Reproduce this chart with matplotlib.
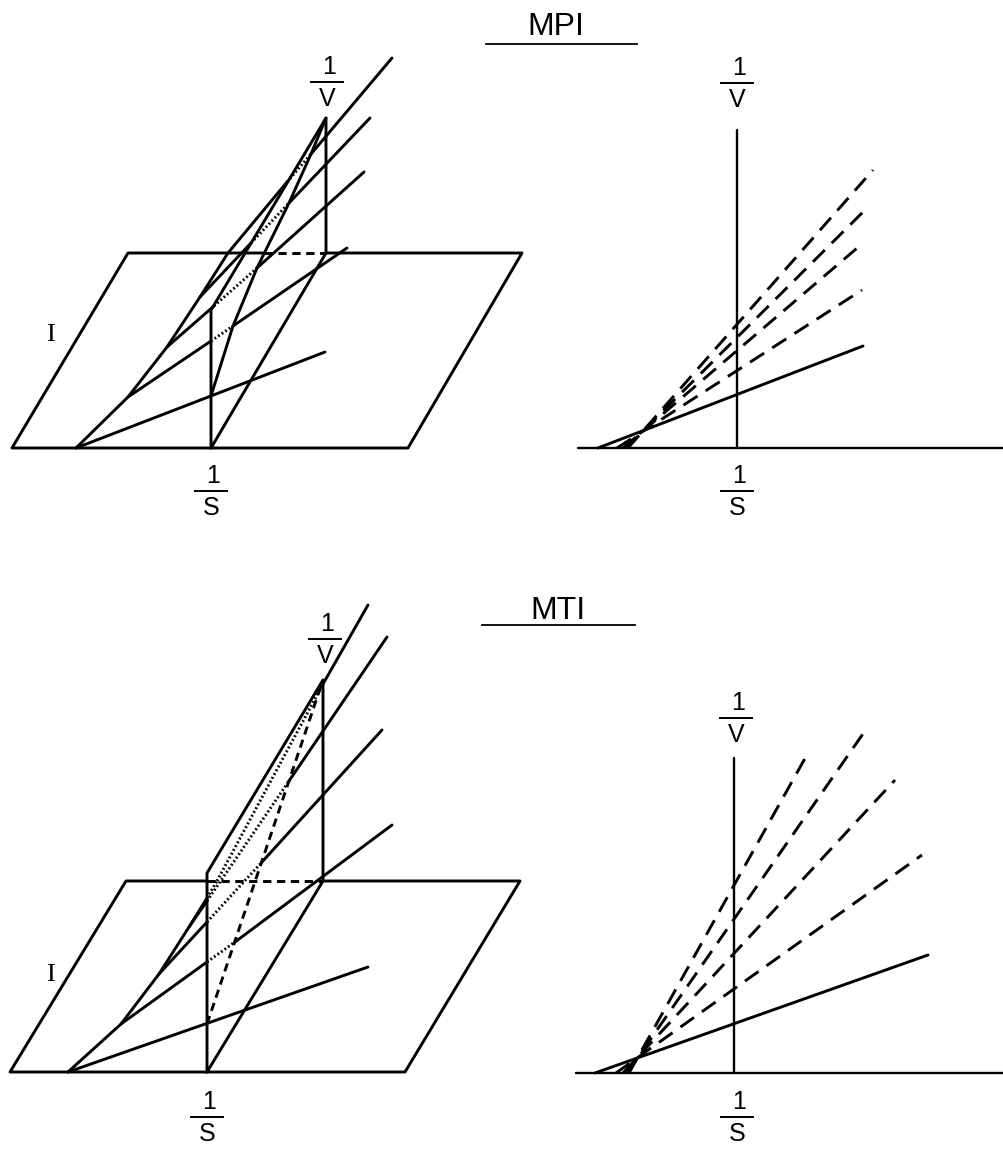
import matplotlib.pyplot as plt
from matplotlib.lines import Line2D

plt.rcParams['lines.scale_dashes'] = False

W, H = 1004, 1157

# All sketch values are in drawing units (1 unit = 1 px), origin at 1/S = 0, 1/V = 0
# of the front plane of each panel.

# ---- MPI, 3-D sketch ----
mpi_floor = [(53, 195), (-83, 195), (-199, 0), (197, 0), (311, 195), (115, 195)]
mpi_floor_hidden = [(53, 195), (115, 195)]
mpi_plane = [(0, 0), (0, 138), (115, 330), (115, 195), (0, 0)]
mpi_base_curve = [(-135, 0), (-83, 51), (-44, 101), (-11, 151), (17, 195)]
mpi_icept_curve = [(0, 52), (22, 122), (46, 180), (78, 245), (100, 294), (115, 330)]
mpi_lines_solid = [
    [(-135, 0), (114, 96)],
    [(-83, 51), (0, 107)], [(22, 122), (136, 200)],
    [(-44, 101), (3, 142)], [(46, 180), (153, 276)],
    [(-11, 151), (40, 205)], [(78, 245), (159, 330)],
    [(17, 195), (76, 266)], [(100, 294), (181, 390)],
]
mpi_lines_hidden = [
    [(0, 107), (22, 122)],
    [(3, 142), (46, 180)],
    [(40, 205), (78, 245)],
    [(76, 266), (100, 294)],
]

# ---- MPI, 2-D plot ----
mpi2_xaxis = [(-159, 0), (267, 0)]
mpi2_yaxis = [(0, 0), (0, 318)]
mpi2_solid = [(-139, 0), (126, 102)]
mpi2_dash_start = [(-120, 0), (-114, 0), (-111, 0), (-109, 0)]
mpi2_dash_end = [(125, 158), (126, 205), (131, 241), (136, 278)]

# ---- MTI, 3-D sketch ----
mti_floor = [(0, 191), (-81, 191), (-197, 0), (198, 0), (313, 191), (116, 191)]
mti_floor_hidden = [(0, 191), (116, 191)]
mti_plane = [(0, 0), (0, 199), (116, 392), (116, 191), (0, 0)]
mti_base_curve = [(-139, 0), (-86, 48), (-48, 98), (-18, 145), (0, 174)]
mti_base_hidden = [(0, 174), (10, 191)]
mti_icept_line = [(0, 48), (116, 392)]
mti_lines_solid = [
    [(-139, 0), (161, 105)],
    [(-86, 48), (0, 110)], [(28, 130), (185, 247)],
    [(-48, 98), (0, 150)], [(55, 210), (175, 342)],
    [(-18, 145), (0, 171)], [(82, 291), (180, 435)],
    [(116, 388), (161, 467)],
]
mti_lines_hidden = [
    [(0, 110), (28, 130)],
    [(0, 150), (55, 210)],
    [(0, 171), (82, 291)],
    [(10, 191), (116, 388)],
]

# ---- MTI, 2-D plot ----
mti2_xaxis = [(-158, 0), (270, 0)]
mti2_yaxis = [(0, 0), (0, 315)]
mti2_solid = [(-139, 0), (194, 118)]
mti2_dash_start = [(-118, 0), (-111, 0), (-107, 0), (-105, 0)]
mti2_dash_end = [(188, 218), (161, 293), (133, 345), (74, 320)]

LW = 2.1
DOT = (0, (1.3, 1.8))
DASH_SHORT = (0, (6, 4))
DASH_LONG = (0, (12, 7))


def poly(ax, pts, lw=LW, ls='-'):
    xs, ys = zip(*pts)
    ax.plot(xs, ys, color='black', lw=lw, ls=ls, clip_on=False,
            solid_capstyle='round', dash_capstyle='butt')


def frac(ax, x, y, bottom, size=18):
    ax.text(x + 2, y + 15, '1', ha='center', va='center', fontsize=size,
            family='Liberation Sans')
    ax.plot([x - 16, x + 16], [y, y], color='black', lw=1.4, clip_on=False)
    ax.text(x, y - 17, bottom, ha='center', va='center', fontsize=size,
            family='Liberation Sans')


def panel(fig, x0, y0, x1, y1, ox, oy):
    ax = fig.add_axes([x0 / W, 1 - y1 / H, (x1 - x0) / W, (y1 - y0) / H])
    ax.set_xlim(x0 - ox, x1 - ox)
    ax.set_ylim(oy - y1, oy - y0)
    ax.axis('off')
    return ax


fig = plt.figure(figsize=(W / 100, H / 100), dpi=100)

# MPI 3-D
ax = panel(fig, 0, 0, 500, 560, 211, 448)
poly(ax, mpi_floor)
poly(ax, mpi_floor_hidden, ls=DASH_SHORT)
poly(ax, mpi_plane)
poly(ax, mpi_base_curve)
poly(ax, mpi_icept_curve)
for seg in mpi_lines_solid:
    poly(ax, seg)
for seg in mpi_lines_hidden:
    poly(ax, seg, ls=DOT)
frac(ax, 116, 366, 'V')
frac(ax, 0, -43, 'S')
ax.text(-161, 113, 'I', ha='center', va='center', fontsize=19,
        family='Liberation Serif')

# MPI 2-D
ax = panel(fig, 500, 0, 1004, 560, 737, 448)
poly(ax, mpi2_xaxis, lw=1.7)
poly(ax, mpi2_yaxis, lw=1.7)
poly(ax, mpi2_solid)
for s, e in zip(mpi2_dash_start, mpi2_dash_end):
    poly(ax, [s, e], ls=DASH_LONG)
frac(ax, 0, 365, 'V')
frac(ax, 0, -43, 'S')

# MTI 3-D
ax = panel(fig, 0, 560, 500, 1157, 207, 1072)
poly(ax, mti_floor)
poly(ax, mti_floor_hidden, ls=DASH_SHORT)
poly(ax, mti_plane)
poly(ax, mti_base_curve)
poly(ax, mti_base_hidden, ls=DOT)
poly(ax, mti_icept_line, ls=DASH_SHORT)
for seg in mti_lines_solid:
    poly(ax, seg)
for seg in mti_lines_hidden:
    poly(ax, seg, ls=DOT)
frac(ax, 118, 433, 'V')
frac(ax, 0, -45, 'S')
ax.text(-157, 97, 'I', ha='center', va='center', fontsize=19,
        family='Liberation Serif')

# MTI 2-D
ax = panel(fig, 500, 560, 1004, 1157, 734, 1073)
poly(ax, mti2_xaxis, lw=1.7)
poly(ax, mti2_yaxis, lw=1.7)
poly(ax, mti2_solid)
for s, e in zip(mti2_dash_start, mti2_dash_end):
    poly(ax, [s, e], ls=DASH_LONG)
frac(ax, 2, 355, 'V')
frac(ax, 3, -44, 'S')

# titles with underline
for label, (tx, ty), (ux0, ux1, uy) in [('MPI', (556, 27), (486, 637, 44)),
                                         ('MTI', (558, 611), (482, 635, 625))]:
    fig.text(tx / W, 1 - ty / H, label, ha='center', va='center',
             fontsize=23, family='Liberation Sans')
    fig.add_artist(Line2D([ux0 / W, ux1 / W], [1 - uy / H, 1 - uy / H],
                          color='black', lw=1.3))

fig.savefig('out.png', dpi=100)
